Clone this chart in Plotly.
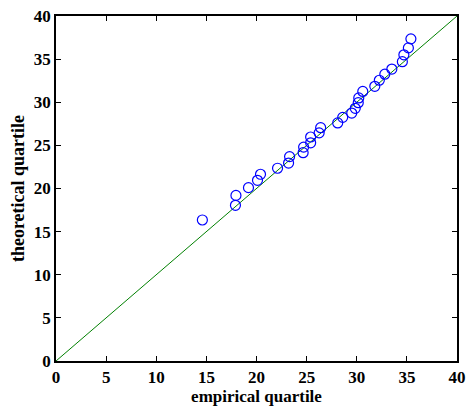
import plotly.graph_objects as go

empirical = [14.6, 17.9, 17.95, 19.2, 20.1, 20.4, 22.1, 23.2, 23.3, 24.65, 24.7, 25.4, 25.4,
             26.25, 26.4, 28.1, 28.6, 29.5, 29.85, 30.15, 30.2, 30.6, 31.8, 32.25, 32.8,
             33.5, 34.55, 34.7, 35.15, 35.4]
theoretical = [16.35, 18.05, 19.2, 20.1, 20.95, 21.65, 22.35, 22.95, 23.7, 24.15, 24.8, 25.3, 25.97,
               26.45, 27.05, 27.6, 28.25, 28.75, 29.3, 29.95, 30.5, 31.25, 31.85, 32.55, 33.25,
               33.85, 34.7, 35.5, 36.3, 37.35]
ref_line = [0, 40]
ticks = [0, 5, 10, 15, 20, 25, 30, 35, 40]

font_family = "Liberation Serif"

fig = go.Figure()
fig.add_trace(go.Scatter(x=ref_line, y=ref_line, mode="lines",
                         line=dict(color="#008000", width=1), showlegend=False))
fig.add_trace(go.Scatter(x=empirical, y=theoretical, mode="markers",
                         marker=dict(symbol="circle-open", size=10, color="#0000ff",
                                     line=dict(width=1.2, color="#0000ff")),
                         showlegend=False))

axis_common = dict(range=[0, 40], tickvals=ticks, ticks="inside", ticklen=5, tickwidth=1,
                   tickcolor="black", showline=True, linecolor="black", linewidth=1.5,
                   mirror="ticks", showgrid=False, zeroline=False, automargin=False,
                   tickfont=dict(family=font_family, size=17, color="black", weight="bold"))

fig.update_xaxes(**axis_common,
                 title=dict(text="empirical quartile", standoff=0,
                            font=dict(family=font_family, size=17, color="black", weight="bold")))
fig.update_yaxes(**axis_common,
                 title=dict(text="theoretical quartile", standoff=5,
                            font=dict(family=font_family, size=18, color="black", weight="bold")))

fig.update_layout(width=466, height=406, margin=dict(l=56, r=9, t=16, b=45),
                  plot_bgcolor="white", paper_bgcolor="white")

fig.write_html("out.html")
